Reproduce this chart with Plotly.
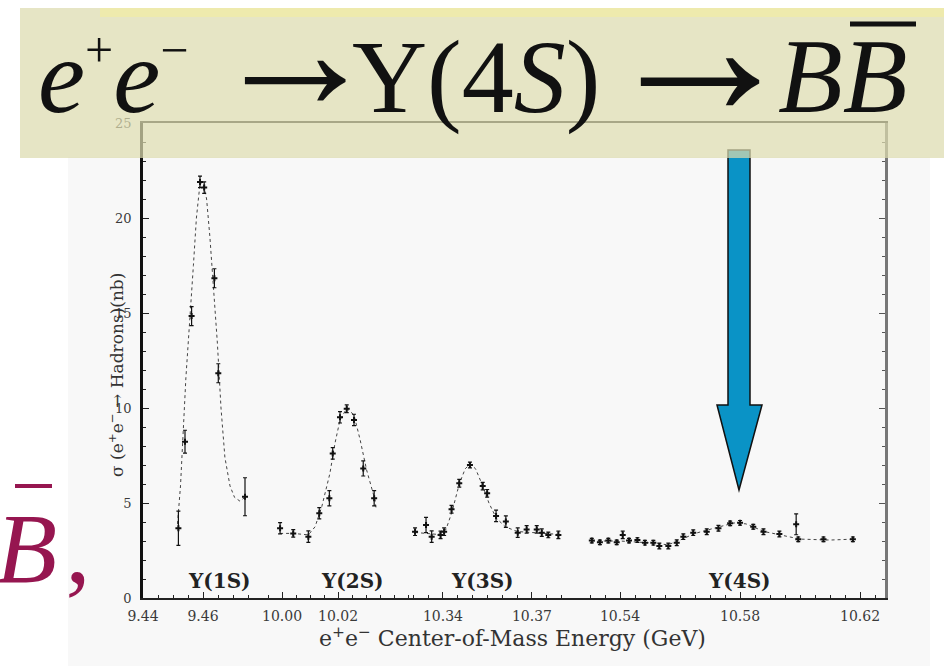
import plotly.graph_objects as go

W, H = 944, 666

# ---------------- data ----------------
# Upsilon(1S) scan
s1_x = [9.4518, 9.4540, 9.4562, 9.4590, 9.4604, 9.4638, 9.4651, 9.4740]
s1_y = [3.67, 8.23, 14.84, 21.9, 21.6, 16.83, 11.83, 5.33]
s1_err = [0.9, 0.6, 0.5, 0.3, 0.3, 0.5, 0.5, 1.0]
fit1_x = [9.4515, 9.4525, 9.4543, 9.4556, 9.4568, 9.4578, 9.4590, 9.4600, 9.4612,
          9.4623, 9.4634, 9.4648, 9.4660, 9.4673, 9.4690, 9.4705, 9.4723, 9.4740]
fit1_y = [3.9, 5.9, 11.6, 14.5, 17.5, 20.0, 21.8, 21.9, 21.0,
          19.0, 16.5, 13.4, 10.0, 7.4, 5.9, 5.3, 5.1, 5.3]

# Upsilon(2S) scan
s2_x = [9.9993, 10.0040, 10.0094, 10.0133, 10.0169, 10.0181, 10.0207, 10.0231, 10.0257, 10.0290, 10.0329]
s2_y = [3.67, 3.40, 3.23, 4.46, 5.25, 7.61, 9.51, 9.96, 9.37, 6.82, 5.25]
s2_err = [0.3, 0.2, 0.3, 0.3, 0.4, 0.3, 0.3, 0.2, 0.3, 0.4, 0.4]
fit2_x = [9.9993, 10.0040, 10.0094, 10.0118, 10.0142, 10.0171, 10.0189, 10.0207,
          10.0231, 10.0257, 10.0279, 10.0302, 10.0332, 10.0336]
fit2_y = [3.4, 3.4, 3.32, 3.75, 4.81, 6.56, 8.14, 9.37,
          9.98, 9.63, 8.32, 6.74, 5.16, 4.7]

# Upsilon(3S) scan
s3_x = [10.3306, 10.3343, 10.3362, 10.3392, 10.3404, 10.3429, 10.3455, 10.3491, 10.3534,
        10.3549, 10.3579, 10.3612, 10.3652, 10.3682, 10.3716, 10.3733, 10.3755, 10.3789]
s3_y = [3.49, 3.84, 3.23, 3.32, 3.49, 4.67, 6.04, 7.00, 5.89,
        5.51, 4.32, 4.02, 3.44, 3.61, 3.61, 3.44, 3.32, 3.32]
s3_err = [0.2, 0.4, 0.3, 0.2, 0.2, 0.2, 0.2, 0.15, 0.2,
          0.2, 0.3, 0.3, 0.25, 0.2, 0.2, 0.2, 0.15, 0.2]
fit3_x = [10.3306, 10.3380, 10.3410, 10.3430, 10.3455, 10.3475, 10.3491, 10.3510,
          10.3534, 10.3555, 10.3580, 10.3610, 10.3650, 10.3700, 10.3789]
fit3_y = [3.45, 3.35, 3.6, 4.5, 6.0, 6.8, 7.05, 6.8,
          5.9, 5.0, 4.2, 3.75, 3.5, 3.45, 3.35]

# Upsilon(4S) scan
s4_x = [10.5306, 10.5333, 10.5361, 10.5389, 10.5409, 10.5430, 10.5458, 10.5483, 10.5511,
        10.5531, 10.5561, 10.5589, 10.5611, 10.5644, 10.5689, 10.5728, 10.5767, 10.5800,
        10.5844, 10.5878, 10.5931, 10.5987, 10.5994, 10.6078, 10.6176]
s4_y = [3.02, 2.93, 3.02, 2.93, 3.32, 3.02, 3.05, 2.91, 2.91,
        2.74, 2.74, 2.91, 3.23, 3.44, 3.49, 3.67, 3.93, 3.96,
        3.75, 3.49, 3.37, 3.88, 3.09, 3.09, 3.09]
s4_err = [0.12, 0.12, 0.12, 0.12, 0.2, 0.12, 0.12, 0.12, 0.12,
          0.15, 0.15, 0.15, 0.15, 0.15, 0.15, 0.15, 0.12, 0.12,
          0.12, 0.15, 0.15, 0.55, 0.12, 0.12, 0.12]
fit4_x = [10.5306, 10.5400, 10.5500, 10.5560, 10.5600, 10.5650, 10.5720, 10.5780,
          10.5820, 10.5880, 10.5940, 10.6000, 10.6100, 10.6180]
fit4_y = [3.0, 3.0, 2.9, 2.8, 3.05, 3.4, 3.7, 3.95,
          3.9, 3.5, 3.3, 3.1, 3.05, 3.1]

seg_ranges = [[9.44, 9.48], [9.9932, 10.0457], [10.3289, 10.3845], [10.525, 10.6283]]
seg_ticks = [[9.44, 9.46], [10.00, 10.02], [10.34, 10.37], [10.54, 10.58, 10.62]]
y_ticks = [0, 5, 10, 15, 20, 25]
peak_labels = ["Υ(1S)", "Υ(2S)", "Υ(3S)", "Υ(4S)"]

# ---------------- helpers ----------------
def px(x):
    return x / W

def py(y):
    return 1 - y / H

seg_px = [(143, 263), (263, 410), (410, 575), (575, 885)]
y_dom = [py(598), py(123)]

fig = go.Figure()

series = [(s1_x, s1_y, s1_err, fit1_x, fit1_y),
          (s2_x, s2_y, s2_err, fit2_x, fit2_y),
          (s3_x, s3_y, s3_err, fit3_x, fit3_y),
          (s4_x, s4_y, s4_err, fit4_x, fit4_y)]
for i, (xs, ys, es, fx, fy) in enumerate(series):
    xa = "x" if i == 0 else f"x{i+1}"
    fig.add_trace(go.Scatter(x=fx, y=fy, xaxis=xa, yaxis="y", mode="lines",
                             line=dict(color="#444", width=1, dash="dot"),
                             showlegend=False, hoverinfo="skip"))
    fig.add_trace(go.Scatter(x=xs, y=ys, xaxis=xa, yaxis="y", mode="markers",
                             marker=dict(symbol="cross", size=5, color="#111"),
                             error_y=dict(type="data", array=es, visible=True,
                                          thickness=1.2, width=2, color="#111"),
                             showlegend=False))

font_ticks = dict(family="DejaVu Serif", size=14, color="#3a3a3a")
for i in range(4):
    key = "xaxis" if i == 0 else f"xaxis{i+1}"
    fig.layout[key] = dict(
        domain=[px(seg_px[i][0]), px(seg_px[i][1])],
        range=seg_ranges[i], anchor="y", automargin=False,
        tickmode="array", tickvals=seg_ticks[i],
        ticktext=[f"{v:.2f}" for v in seg_ticks[i]],
        ticks="inside", ticklen=6, tickwidth=1, tickcolor="#222",
        ticklabelstandoff=4,
        minor=dict(tickmode="linear", tick0=9.44, dtick=0.005, ticks="inside",
                   ticklen=3, tickcolor="#222"),
        showline=True, linecolor="#222", linewidth=2, mirror=True,
        showgrid=False, zeroline=False, tickfont=font_ticks,
    )

fig.update_layout(
    yaxis=dict(domain=y_dom, range=[0, 25], anchor="x", automargin=False,
               tickmode="array", tickvals=y_ticks,
               ticks="inside", ticklen=6, tickcolor="#222",
               ticklabelstandoff=6,
               minor=dict(tickmode="linear", tick0=0, dtick=1, ticks="inside",
                          ticklen=3, tickcolor="#222"),
               showline=True, linecolor="#111", linewidth=2.5,
               showgrid=False, zeroline=False,
               tickfont=dict(family="DejaVu Serif", size=13, color="#3a3a3a")),
    yaxis2=dict(domain=y_dom, range=[0, 25], anchor="x4", overlaying="y",
                side="right", matches="y", automargin=False,
                tickmode="array", tickvals=y_ticks, showticklabels=False,
                ticks="inside", ticklen=6, tickcolor="#555",
                minor=dict(tickmode="linear", tick0=0, dtick=1, ticks="inside",
                           ticklen=3, tickcolor="#555"),
                showline=True, linecolor="#777", linewidth=3,
                showgrid=False, zeroline=False),
)
fig.add_trace(go.Scatter(x=[None], y=[None], xaxis="x4", yaxis="y2",
                         showlegend=False, hoverinfo="skip"))

# ---------------- shapes ----------------
shapes = []
shapes.append(dict(type="rect", xref="paper", yref="paper", layer="below",
                   x0=px(68), x1=px(930), y0=py(666), y1=py(157),
                   fillcolor="#f8f8f8", line=dict(width=0)))
arrow_pts = [(728, 150), (750, 150), (750, 405), (762, 405), (739, 490),
             (717, 405), (728, 405)]
path = "M " + " L ".join(f"{px(a):.5f},{py(b):.5f}" for a, b in arrow_pts) + " Z"
shapes.append(dict(type="path", xref="paper", yref="paper", layer="above",
                   path=path, fillcolor="#0a93c6", line=dict(color="#111", width=1.5)))
shapes.append(dict(type="rect", xref="paper", yref="paper", layer="above",
                   x0=px(20), x1=px(944), y0=py(158), y1=py(8),
                   fillcolor="rgba(220,219,175,0.72)", line=dict(width=0)))
shapes.append(dict(type="rect", xref="paper", yref="paper", layer="above",
                   x0=px(100), x1=px(944), y0=py(17), y1=py(8),
                   fillcolor="rgba(245,240,150,0.5)", line=dict(width=0)))
shapes.append(dict(type="line", xref="paper", yref="paper", layer="above",
                   x0=px(850), x1=px(916), y0=py(24), y1=py(24),
                   line=dict(color="#111", width=5)))
shapes.append(dict(type="line", xref="paper", yref="paper", layer="above",
                   x0=px(15), x1=px(52), y0=py(486), y1=py(486),
                   line=dict(color="#961650", width=4)))
fig.update_layout(shapes=shapes)

# ---------------- annotations ----------------
ann = []
small = '<span style="font-size:50px">{}</span>'
title_font = dict(family="Liberation Serif", size=106, color="#111")
# title pieces: e+e-  ->  Y(4S)  ->  B B(bar)
ann.append(dict(text="<i>e</i><sup>" + small.format("+") + "</sup><i>e</i><sup>"
                + small.format("−") + "</sup>",
                xref="paper", yref="paper", x=px(36), y=py(137),
                xanchor="left", yanchor="bottom", showarrow=False, font=title_font))
ann.append(dict(text="→", xref="paper", yref="paper", x=px(295), y=py(148),
                xanchor="center", yanchor="bottom", showarrow=False,
                font=dict(family="Liberation Serif", size=170, color="#111")))
ann.append(dict(text="Υ(4<i>S</i>)", xref="paper", yref="paper", x=px(350), y=py(137),
                xanchor="left", yanchor="bottom", showarrow=False,
                font=dict(family="Liberation Serif", size=104, color="#111")))
ann.append(dict(text="→", xref="paper", yref="paper", x=px(700), y=py(160),
                xanchor="center", yanchor="bottom", showarrow=False,
                font=dict(family="Liberation Serif", size=200, color="#111")))
ann.append(dict(text="<i>B</i><i>B</i>", xref="paper", yref="paper", x=px(776), y=py(137),
                xanchor="left", yanchor="bottom", showarrow=False, font=title_font))

ann.append(dict(text="<i>B</i>\u200a,", xref="paper", yref="paper", x=px(-6), y=py(548),
                xanchor="left", yanchor="middle", showarrow=False,
                font=dict(family="Liberation Serif", size=100, color="#961650")))
ann.append(dict(text="σ (e<sup>+</sup>e<sup>−</sup> → Hadrons)(nb)", textangle=-90,
                xref="paper", yref="paper", x=px(116), y=py(375),
                xanchor="center", yanchor="middle", showarrow=False,
                font=dict(family="DejaVu Serif", size=17, color="#333")))
ann.append(dict(text="e<sup>+</sup>e<sup>−</sup> Center-of-Mass Energy (GeV)",
                xref="paper", yref="paper", x=px(512), y=py(637),
                xanchor="center", yanchor="middle", showarrow=False,
                font=dict(family="DejaVu Serif", size=22, color="#333")))
label_px = [219, 352, 482, 739]
for lab, lx in zip(peak_labels, label_px):
    ann.append(dict(text="<b>" + lab + "</b>", xref="paper", yref="paper", x=px(lx), y=py(581),
                    xanchor="center", yanchor="middle", showarrow=False,
                    font=dict(family="DejaVu Serif", size=20, color="#222")))
fig.update_layout(annotations=ann)

fig.update_layout(width=W, height=H, margin=dict(l=0, r=0, t=0, b=0),
                  paper_bgcolor="white", plot_bgcolor="rgba(0,0,0,0)",
                  showlegend=False)

fig.write_html("out.html")
